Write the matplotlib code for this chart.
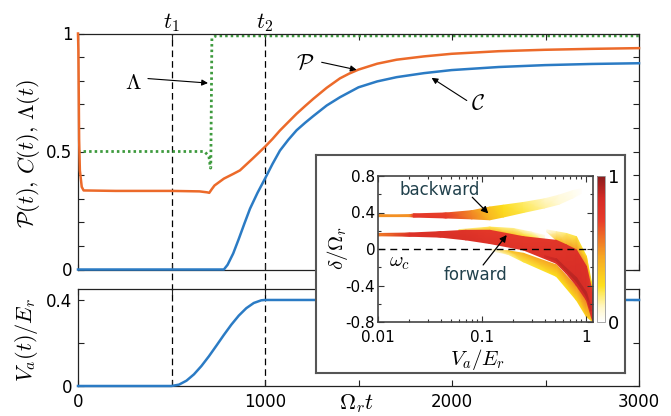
import numpy as np
import matplotlib
matplotlib.use('Agg')
import matplotlib.pyplot as plt
from matplotlib.colors import LinearSegmentedColormap, Normalize
from matplotlib.cm import ScalarMappable
from matplotlib.ticker import FixedLocator, FixedFormatter, NullFormatter, LogLocator
import matplotlib.transforms as mtransforms

plt.rcParams['font.family'] = ['DejaVu Sans']
plt.rcParams['mathtext.fontset'] = 'cm'
plt.rcParams['axes.unicode_minus'] = False

# ---------------- data: main panel ----------------
t_P = [0, 2, 4, 6, 10, 20, 30, 200, 500, 650, 690, 702, 715, 730, 780, 830, 866, 934,
       1000, 1040, 1080, 1125, 1169, 1215, 1258, 1330, 1401, 1450, 1500, 1600, 1704,
       1850, 1998, 2250, 2497, 2750, 3000]
P_vals = [1.0, 0.93, 0.75, 0.55, 0.42, 0.35, 0.335, 0.333, 0.333, 0.331, 0.327, 0.325,
          0.34, 0.356, 0.385, 0.405, 0.42, 0.47, 0.52, 0.553, 0.589, 0.625, 0.66, 0.693,
          0.723, 0.77, 0.81, 0.83, 0.847, 0.872, 0.889, 0.903, 0.914, 0.925, 0.931,
          0.935, 0.938]

t_C = [0, 780, 800, 830, 860, 890, 920, 960, 1000, 1040, 1080, 1125, 1169, 1215, 1258,
       1330, 1401, 1500, 1600, 1704, 1850, 1998, 2250, 2497, 2750, 3000]
C_vals = [0, 0, 0.02, 0.068, 0.13, 0.195, 0.258, 0.325, 0.385, 0.447, 0.504, 0.55, 0.59,
          0.622, 0.65, 0.695, 0.73, 0.772, 0.797, 0.815, 0.832, 0.845, 0.858, 0.866,
          0.871, 0.874]

t_L = [0, 676, 700, 708, 710, 716, 738, 3000]
L_vals = [0.5, 0.5, 0.48, 0.43, 0.43, 0.98, 0.99, 0.99]

t_V = [0, 500, 540, 580, 620, 660, 700, 740, 780, 820, 860, 900, 940, 980, 1000, 3000]
Va_vals = [0, 0, 0.0063, 0.0247, 0.0542, 0.0929, 0.1382, 0.1874, 0.2375, 0.2852,
           0.3275, 0.3618, 0.386, 0.3984, 0.4, 0.4]

t_marks = [500, 1000]
t_mark_labels = ['$t_1$', '$t_2$']

# ---------------- data: inset bands ----------------
# each band: V positions, lower/upper edge (delta/Omega_r), colour value at lower/upper edge
bw_V = [0.010, 0.020, 0.022, 0.045, 0.080, 0.119, 0.160, 0.250, 0.400, 0.550, 0.750, 0.900]
bw_lo = [0.355, 0.355, 0.350, 0.340, 0.330, 0.320, 0.350, 0.400, 0.450, 0.490, 0.560, 0.610]
bw_hi = [0.375, 0.375, 0.385, 0.395, 0.420, 0.460, 0.480, 0.510, 0.550, 0.590, 0.640, 0.660]
bw_val_lo = [0.50, 0.50, 0.72, 0.70, 0.55, 0.40, 0.30, 0.22, 0.14, 0.08, 0.04, 0.01]
bw_val_hi = [0.50, 0.50, 0.72, 0.68, 0.50, 0.35, 0.25, 0.18, 0.10, 0.06, 0.03, 0.01]

fr_V = [0.060, 0.119, 0.200, 0.300, 0.400]
fr_lo = [0.195, 0.190, 0.160, 0.120, 0.100]
fr_hi = [0.212, 0.240, 0.225, 0.185, 0.150]
fr_val_lo = [0.35, 0.40, 0.35, 0.25, 0.10]
fr_val_hi = [0.15, 0.20, 0.15, 0.08, 0.02]

fw_V = [0.010, 0.020, 0.040, 0.070, 0.119, 0.250, 0.520, 0.650, 0.810, 1.010, 1.170]
fw_lo = [0.145, 0.140, 0.130, 0.100, 0.060, -0.010, -0.157, -0.270, -0.400, -0.560, -0.800]
fw_hi = [0.170, 0.175, 0.190, 0.205, 0.205, 0.135, 0.095, 0.045, -0.010, -0.190, -0.500]
fw_val_lo = [0.55, 0.78, 0.80, 0.80, 0.78, 0.76, 0.80, 0.82, 0.84, 0.84, 0.78]
fw_val_hi = [0.55, 0.78, 0.78, 0.76, 0.72, 0.72, 0.74, 0.76, 0.78, 0.78, 0.70]

ur_V = [0.420, 0.520, 0.650, 0.810, 1.010, 1.170]
ur_lo = [0.190, 0.095, 0.045, -0.010, -0.190, -0.500]
ur_hi = [0.210, 0.190, 0.170, 0.135, -0.080, -0.450]
ur_val_lo = [0.08, 0.35, 0.42, 0.48, 0.50, 0.45]
ur_val_hi = [0.02, 0.12, 0.18, 0.22, 0.25, 0.25]

lw_V = [0.124, 0.180, 0.250, 0.520, 0.810, 1.010, 1.170]
lw_lo = [-0.020, -0.060, -0.140, -0.300, -0.560, -0.740, -0.800]
lw_hi = [-0.005, -0.020, -0.047, -0.175, -0.410, -0.560, -0.780]
lw_val_lo = [0.03, 0.15, 0.22, 0.25, 0.27, 0.30, 0.30]
lw_val_hi = [0.10, 0.35, 0.42, 0.46, 0.50, 0.55, 0.50]

dk_V = [0.400, 0.520, 0.810, 1.010, 1.120]
dk_lo = [-0.085, -0.128, -0.355, -0.515, -0.680]
dk_hi = [-0.075, -0.108, -0.315, -0.475, -0.630]
dk_val_lo = [0.84, 0.88, 0.90, 0.90, 0.86]
dk_val_hi = [0.84, 0.88, 0.90, 0.90, 0.86]

inset_xticks = [0.01, 0.1, 1]
inset_xticklabels = ['0.01', '0.1', '1']
inset_yticks = [-0.8, -0.4, 0, 0.4, 0.8]
inset_yticklabels = ['-0.8', '-0.4', '0', '0.4', '0.8']

# ---------------- styling ----------------
ORANGE = '#ec6a2a'
BLUE = '#2b7bc4'
GREEN = '#3d9a3d'
TEXTC = '#21414c'

cmap = LinearSegmentedColormap.from_list('heat', [
    (0.0, '#ffffff'), (0.1, '#fff7c8'), (0.25, '#fde01c'), (0.45, '#f6a623'),
    (0.70, '#e73a2a'), (0.85, '#d42b26'), (1.0, '#8a1c1c')])

W, H = 671, 416
fig = plt.figure(figsize=(W / 100, H / 100), dpi=100)

def fx(px):
    return px / W

def fy(py):
    return 1 - py / H

ax1 = fig.add_axes([fx(78), fy(269.5), fx(639) - fx(78), fy(33.5) - fy(269.5)])
ax2 = fig.add_axes([fx(78), fy(386), fx(639) - fx(78), fy(289) - fy(386)])
ax1.patch.set_visible(False)
ax2.patch.set_visible(False)

# vertical dashed markers across both panels
blend = mtransforms.blended_transform_factory(ax1.transData, fig.transFigure)
for tm, lab in zip(t_marks, t_mark_labels):
    ax1.plot([tm, tm], [fy(386), fy(33.5)], transform=blend, color='k', lw=0.9,
             ls=(0, (5.3, 3.2)), clip_on=False, zorder=1)
    ax1.text(tm, 1.048, lab, ha='center', va='center', fontsize=16)

ax1.plot(t_L, L_vals, color=GREEN, lw=2.0, ls=(0, (0.9, 1.1)), zorder=2, clip_on=False)
ax1.plot(t_P, P_vals, color=ORANGE, lw=1.8, zorder=3, clip_on=False)
ax1.plot(t_C, C_vals, color=BLUE, lw=1.8, zorder=3, clip_on=False)
ax2.plot(t_V, Va_vals, color=BLUE, lw=1.8, zorder=3, clip_on=False)

ax1.set_xlim(0, 3000)
ax1.set_ylim(0, 1)
ax2.set_xlim(0, 3000)
ax2.set_ylim(0, 0.451)

ax1.set_xticks(np.arange(0, 3001, 500))
ax1.set_xticklabels([])
ax1.set_yticks([0, 0.5, 1])
ax1.set_yticklabels(['0', '0.5', '1'])
ax1.yaxis.set_minor_locator(FixedLocator(np.arange(0.1, 1.0, 0.1)))

ax2.set_xticks([0, 1000, 2000, 3000])
ax2.set_xticklabels(['0', '1000', '2000', '3000'])
ax2.xaxis.set_minor_locator(FixedLocator([500, 1500, 2500]))
ax2.set_yticks([0, 0.4])
ax2.set_yticklabels(['0', '0.4'])
ax2.yaxis.set_minor_locator(FixedLocator([0.2]))

for ax in (ax1, ax2):
    ax.tick_params(which='both', direction='in', length=4, width=0.8, top=True,
                   right=True, labelsize=12, colors='#222222', labelcolor='black')
    ax.tick_params(axis='x', pad=5)
    ax.tick_params(axis='y', pad=4)
    for s in ax.spines.values():
        s.set_linewidth(0.9)
        s.set_color('#222222')

ax1.text(-0.089, 0.49, r'$\mathcal{P}(t),\, C(t),\, \Lambda(t)$', transform=ax1.transAxes,
         rotation=90, ha='center', va='center', fontsize=16)
ax2.text(-0.091, 0.47, r'$V_a(t)/E_r$', transform=ax2.transAxes,
         rotation=90, ha='center', va='center', fontsize=16)
fig.text(fx(356), fy(404), r'$\Omega_r t$', ha='center', va='center', fontsize=16)

arrow_kw = dict(arrowstyle='-|>', color='k', lw=0.8, mutation_scale=9,
                shrinkA=0, shrinkB=0)
ax1.text(294, 0.792, r'$\Lambda$', ha='center', va='center', fontsize=16)
ax1.annotate('', xy=(695, 0.79), xytext=(374, 0.809), arrowprops=arrow_kw)
ax1.text(1214, 0.873, r'$\mathcal{P}$', ha='center', va='center', fontsize=16)
ax1.annotate('', xy=(1490, 0.846), xytext=(1303, 0.878), arrowprops=arrow_kw)
ax1.text(2139, 0.703, r'$\mathcal{C}$', ha='center', va='center', fontsize=16)
ax1.annotate('', xy=(1891, 0.812), xytext=(2079, 0.716), arrowprops=arrow_kw)

# ---------------- inset ----------------
frame = fig.add_axes([fx(316), fy(373), fx(625) - fx(316), fy(155) - fy(373)])
frame.set_xticks([])
frame.set_yticks([])
frame.set_facecolor('white')
for s in frame.spines.values():
    s.set_linewidth(1.5)
    s.set_color('#555555')

ins = fig.add_axes([fx(378), fy(322), fx(593) - fx(378), fy(176) - fy(322)])
ins.set_xscale('log')
ins.set_xlim(0.01, 1.17)
ins.set_ylim(-0.8, 0.8)

def band(ax, V, lo, hi, val_lo, val_hi, z):
    V = np.asarray(V, dtype=float)
    X = np.vstack([V, V])
    Y = np.vstack([np.asarray(lo, float), np.asarray(hi, float)])
    Cv = np.vstack([np.asarray(val_lo, float), np.asarray(val_hi, float)])
    ax.pcolormesh(X, Y, Cv, shading='gouraud', cmap=cmap, vmin=0, vmax=1, zorder=z)

band(ins, lw_V, lw_lo, lw_hi, lw_val_lo, lw_val_hi, 1.0)
band(ins, ur_V, ur_lo, ur_hi, ur_val_lo, ur_val_hi, 1.1)
band(ins, fr_V, fr_lo, fr_hi, fr_val_lo, fr_val_hi, 1.2)
band(ins, fw_V, fw_lo, fw_hi, fw_val_lo, fw_val_hi, 1.3)
band(ins, dk_V, dk_lo, dk_hi, dk_val_lo, dk_val_hi, 1.4)
band(ins, bw_V, bw_lo, bw_hi, bw_val_lo, bw_val_hi, 1.5)

ins.axhline(0, color='k', lw=1.0, ls=(0, (5, 3.5)), zorder=2)

ins.xaxis.set_major_locator(FixedLocator(inset_xticks))
ins.xaxis.set_major_formatter(FixedFormatter(inset_xticklabels))
ins.xaxis.set_minor_locator(LogLocator(base=10, subs=np.arange(2, 10)))
ins.xaxis.set_minor_formatter(NullFormatter())
ins.yaxis.set_major_locator(FixedLocator(inset_yticks))
ins.yaxis.set_major_formatter(FixedFormatter(inset_yticklabels))
ins.yaxis.set_minor_locator(FixedLocator([-0.6, -0.2, 0.2, 0.6]))
ins.tick_params(which='both', direction='in', top=True, right=True, width=0.8,
                labelsize=11, colors='#333333', labelcolor='black')
ins.tick_params(which='major', length=4)
ins.tick_params(which='minor', length=2.5)
ins.tick_params(axis='x', pad=6)
ins.tick_params(axis='y', pad=2)
for s in ins.spines.values():
    s.set_linewidth(1.2)
    s.set_color('#444444')

fig.text(fx(478), fy(360), r'$V_a/E_r$', ha='center', va='center', fontsize=15)
fig.text(fx(338), fy(248), r'$\delta/\Omega_r$', ha='center', va='center', rotation=90,
         fontsize=15)

ins.text(0.0395, 0.647, 'backward', ha='center', va='center', fontsize=12, color=TEXTC)
ins.text(0.0875, -0.29, 'forward', ha='center', va='center', fontsize=12, color=TEXTC)
ins.text(0.0163, -0.14, r'$\omega_c$', ha='center', va='center', fontsize=15)
ins_arrow = dict(arrowstyle='-|>', color='k', lw=0.9, mutation_scale=10, shrinkA=0, shrinkB=0)
ins.annotate('', xy=(0.115, 0.39), xytext=(0.0807, 0.567), arrowprops=ins_arrow, zorder=5)
ins.annotate('', xy=(0.173, 0.153), xytext=(0.1026, -0.175), arrowprops=ins_arrow, zorder=5)

cax = fig.add_axes([fx(597), fy(322), fx(605) - fx(597), fy(176) - fy(322)])
cb = fig.colorbar(ScalarMappable(norm=Normalize(0, 1), cmap=cmap), cax=cax, ticks=[0, 1])
cb.ax.set_yticklabels(['0', '1'])
cb.ax.tick_params(length=0, labelsize=13, pad=2)
cb.outline.set_edgecolor('#999999')
cb.outline.set_linewidth(0.6)

fig.savefig('out.png', dpi=100)
